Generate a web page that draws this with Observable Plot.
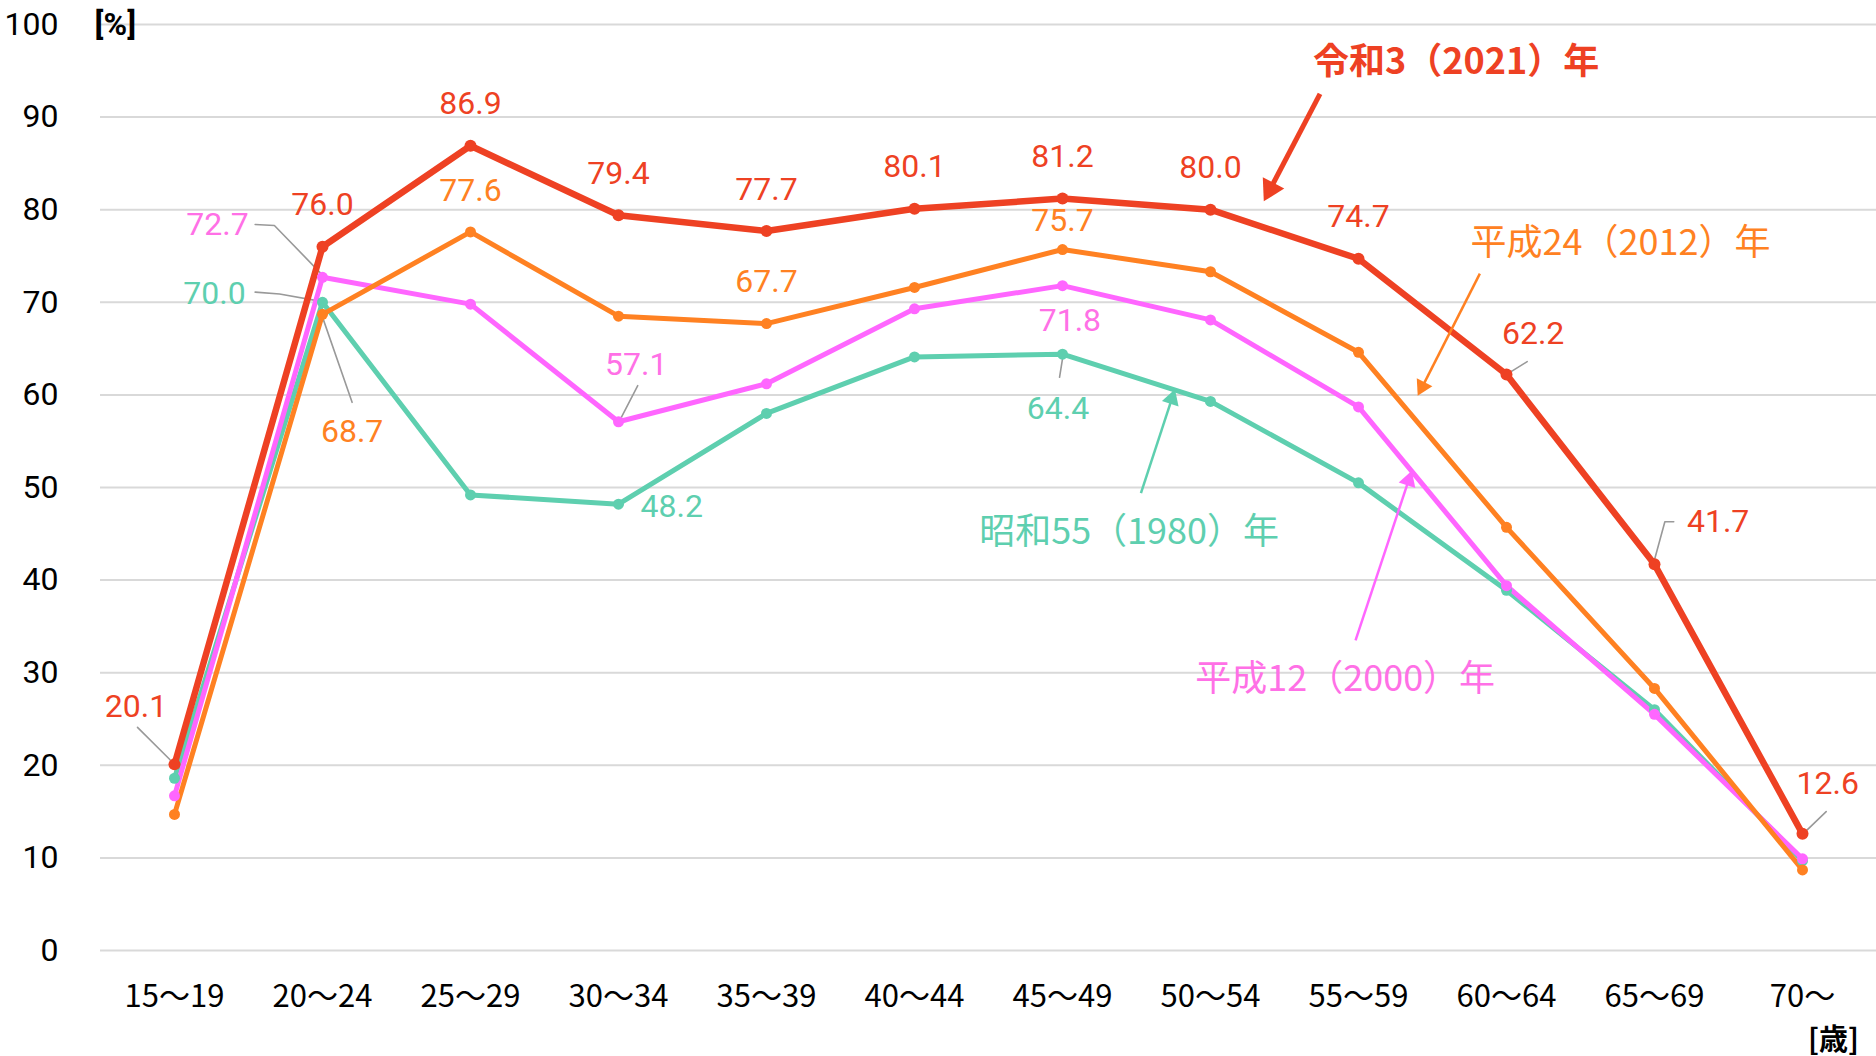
<!DOCTYPE html>
<html>
<head>
<meta charset="utf-8">
<script src="https://cdn.jsdelivr.net/npm/d3@7"></script>
<script src="https://cdn.jsdelivr.net/npm/@observablehq/plot@0.6"></script>
<style>
  html, body { margin: 0; padding: 0; background: #fff; }
  #chart svg { display: block; }
</style>
</head>
<body>
<div id="chart"></div>
<script>
// ---- data ----
const ages = ["15～19","20～24","25～29","30～34","35～39","40～44","45～49","50～54","55～59","60～64","65～69","70～"];
const r3  = [20.1, 76.0, 86.9, 79.4, 77.7, 80.1, 81.2, 80.0, 74.7, 62.2, 41.7, 12.6]; // 令和3(2021)年
const h24 = [14.7, 68.7, 77.6, 68.5, 67.7, 71.6, 75.7, 73.3, 64.6, 45.7, 28.3, 8.7];  // 平成24(2012)年
const h12 = [16.7, 72.7, 69.8, 57.1, 61.2, 69.3, 71.8, 68.1, 58.7, 39.4, 25.5, 9.9];  // 平成12(2000)年
const s55 = [18.6, 70.0, 49.2, 48.2, 58.0, 64.1, 64.4, 59.3, 50.5, 38.9, 26.0, 9.7];  // 昭和55(1980)年
const seriesNames = {s55: "昭和55（1980）年", h12: "平成12（2000）年", h24: "平成24（2012）年", r3: "令和3（2021）年"};
const yTicks = [0, 10, 20, 30, 40, 50, 60, 70, 80, 90, 100];

// ---- styles ----
const colors = {s55: "#5ECFAF", h12: "#FF66FF", h24: "#FF8122", r3: "#EE4123"};
const labelColors = {s55: "#5ECFAF", h12: "#FF70E6", h24: "#FF8122", r3: "#EE4123"};
const widths = {s55: 5, h12: 5, h24: 5, r3: 6.5};
const NUM = "Roboto, 'Noto Sans', sans-serif";
const JP = "'Noto Sans CJK JP', sans-serif";

const W = 1876, H = 1056, ML = 100, MR = 0, MT = 24, MB = 106;
const seriesData = {s55, h12, h24, r3};
const order = ["s55", "h12", "h24", "r3"];

// value labels: which points carry a label and where (data units)
const labelSpecs = [
  {k:"r3", i:0, x:-0.26, y:26.3},
  {k:"r3", i:1}, {k:"r3", i:2}, {k:"r3", i:3}, {k:"r3", i:4}, {k:"r3", i:5},
  {k:"r3", i:6}, {k:"r3", i:7}, {k:"r3", i:8},
  {k:"r3", i:9, x:9.18, y:66.6},
  {k:"r3", i:10, x:10.43, y:46.3},
  {k:"r3", i:11, x:11.17, y:18.0},
  {k:"h24", i:1, x:1.2, y:56.0},
  {k:"h24", i:2}, {k:"h24", i:4},
  {k:"h24", i:6, x:6.0, y:78.8},
  {k:"h12", i:1, x:0.29, y:78.4},
  {k:"h12", i:3, x:3.12, y:63.3},
  {k:"h12", i:6, x:6.05, y:68.0},
  {k:"s55", i:1, x:0.27, y:70.9},
  {k:"s55", i:3, x:3.36, y:47.9},
  {k:"s55", i:6, x:5.97, y:58.5}
].map(d => {
  const v = seriesData[d.k][d.i];
  return {k: d.k, text: v.toFixed(1), x: d.x ?? d.i, y: d.y ?? v + 4.5};
});

// leader lines (data units)
const leaders = [
  [[-0.25, 24.1], [-0.03, 20.6]],
  [[0.545, 78.4], [0.675, 78.3], [0.99, 73.1]],
  [[0.545, 71.1], [0.71, 70.9], [0.99, 70.1]],
  [[1.0, 68.4], [1.2, 59.2]],
  [[3.13, 61.0], [3.02, 57.6]],
  [[6.0, 63.9], [5.98, 61.9]],
  [[9.02, 62.4], [9.14, 63.6]],
  [[10.13, 46.3], [10.07, 46.3], [10.0, 42.2]],
  [[11.16, 15.0], [11.03, 13.0]]
].flatMap((pts, j) => pts.map(([x, y]) => ({j, x, y})));

// series name annotations + arrows (data units)
const annots = [
  {k:"r3",  x:8.66, y:95.9},
  {k:"h24", x:9.77, y:76.3},
  {k:"s55", x:6.45, y:45.1},
  {k:"h12", x:7.91, y:29.3}
].map(d => ({...d, text: seriesNames[d.k]}));
const arrows = [
  {k:"r3",  x1:7.74, y1:92.5, x2:7.36, y2:80.9, w:5,   r:9},
  {k:"h24", x1:8.82, y1:73.1, x2:8.40, y2:59.9, w:2.5, r:6.5},
  {k:"s55", x1:6.53, y1:49.4, x2:6.76, y2:60.6, w:2.5, r:6.5},
  {k:"h12", x1:7.98, y1:33.5, x2:8.36, y2:51.8, w:2.5, r:6.5}
];
// scale helpers used only to orient arrowheads
const px = x => ML + (x + 0.5) * (W - ML - MR) / 12;
const py = y => MT + (100 - y) * (H - MT - MB) / 100;
const ix = p => (p - ML) * 12 / (W - ML - MR) - 0.5;
const iy = p => 100 - (p - MT) * 100 / (H - MT - MB);
const heads = arrows.map(a => {
  const dx = px(a.x2) - px(a.x1), dy = py(a.y2) - py(a.y1);
  const L = Math.hypot(dx, dy), ux = dx / L, uy = dy / L;
  const c = 1.555 * a.r;
  return {k: a.k, r: a.r, rot: Math.atan2(dy, dx) * 180 / Math.PI + 90,
    x: ix(px(a.x2) - ux * c), y: iy(py(a.y2) - uy * c)};
});

const plot = Plot.plot({
  width: W, height: H,
  marginLeft: ML, marginRight: MR, marginTop: MT, marginBottom: MB,
  style: {fontFamily: NUM, background: "#fff", overflow: "visible"},
  x: {type: "linear", domain: [-0.5, 11.5]},
  y: {domain: [0, 100]},
  r: {type: "identity"},
  marks: [
    Plot.ruleY(yTicks, {stroke: "#d9d9d9", strokeWidth: 2}),
    Plot.axisY({ticks: yTicks, tickSize: 0, tickPadding: 42, fontSize: 32, label: null, fill: "#000"}),
    Plot.axisX({ticks: d3.range(ages.length), tickFormat: i => ages[i], tickSize: 0, tickPadding: 34, fontSize: 31, fontFamily: JP, label: null, fill: "#000"}),
    Plot.text(["[%]"], {x: -0.4, y: 100, fontSize: 32, fontWeight: "bold", fill: "#000", fontFamily: NUM}),
    Plot.text(["[歳]"], {x: 11.21, y: -9.7, fontSize: 29, fontWeight: "bold", fill: "#000", fontFamily: JP}),
    // leader lines
    Plot.line(leaders, {x: "x", y: "y", z: "j", stroke: "#999", strokeWidth: 1.6}),
    // series lines and dots
    ...order.map(k => Plot.line(seriesData[k], {x: (d, i) => i, y: d => d, stroke: colors[k], strokeWidth: widths[k], strokeLinejoin: "round"})),
    ...order.map(k => Plot.dot(seriesData[k], {x: (d, i) => i, y: d => d, fill: colors[k], r: k === "r3" ? 6 : 5.5})),
    // value labels
    Plot.text(labelSpecs, {x: "x", y: "y", text: "text", fill: d => labelColors[d.k], fontSize: 32, fontFamily: NUM}),
    // arrows
    Plot.link(arrows.map((a, j) => ({...a, x2: heads[j].x, y2: heads[j].y})), {x1: "x1", y1: "y1", x2: "x2", y2: "y2", stroke: d => colors[d.k], strokeWidth: d => d.w}),
    Plot.dot(heads, {x: "x", y: "y", r: "r", symbol: "triangle", rotate: "rot", fill: d => colors[d.k], stroke: "none"}),
    // annotations
    Plot.text(annots.filter(d => d.k === "r3"), {x: "x", y: "y", text: "text", fill: d => labelColors[d.k], fontSize: 36, fontFamily: JP, fontWeight: "bold"}),
    Plot.text(annots.filter(d => d.k !== "r3"), {x: "x", y: "y", text: "text", fill: d => labelColors[d.k], fontSize: 36, fontFamily: JP})
  ]
});
document.getElementById("chart").append(plot);
</script>
</body>
</html>
